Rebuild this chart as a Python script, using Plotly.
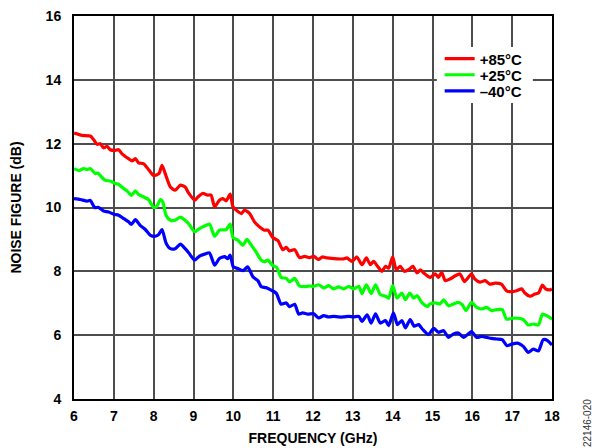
import plotly.graph_objects as go

# Frequency (GHz) and noise figure (dB)
freq_85 = [6.0, 6.2, 6.41, 6.49, 6.58, 6.66, 6.74, 6.83, 6.91, 7.04, 7.12, 7.2, 7.37, 7.46, 7.54, 7.62, 7.75, 7.87,
           8.0, 8.13, 8.21, 8.29, 8.42, 8.54, 8.67, 8.79, 8.88,
           9.03, 9.11, 9.23, 9.36, 9.44, 9.53, 9.65, 9.74, 9.82, 9.92, 9.99, 10.07, 10.2, 10.28, 10.41, 10.53,
           10.66, 10.78, 10.87, 10.99, 11.12, 11.24, 11.33, 11.41, 11.54, 11.66, 11.79, 11.91,
           12.02, 12.14, 12.23, 12.35, 12.6, 12.77, 12.85, 12.98, 13.1, 13.23, 13.34, 13.44, 13.52, 13.62,
           13.73, 13.82, 13.9, 14.0, 14.09, 14.19, 14.29, 14.4, 14.51, 14.61, 14.7, 14.78,
           14.94, 15.07, 15.15, 15.23, 15.32, 15.44, 15.57, 15.69, 15.8, 15.9, 15.98, 16.06, 16.19, 16.32,
           16.44, 16.57, 16.73, 16.86, 16.99, 17.11, 17.24, 17.32, 17.45, 17.57, 17.66, 17.76, 17.84, 17.95, 18.0]
nf_85 = [12.33, 12.26, 12.24, 12.13, 11.98, 12.0, 11.87, 11.92, 11.81, 11.79, 11.81, 11.69, 11.53, 11.46, 11.53, 11.40, 11.37, 11.19,
         11.0, 11.06, 11.32, 11.06, 10.64, 10.54, 10.70, 10.64, 10.45,
         10.23, 10.33, 10.44, 10.39, 10.39, 10.02, 10.23, 10.28, 10.21, 10.42, 10.02, 9.92, 9.81, 9.92, 9.81, 9.55,
         9.39, 9.29, 9.29, 9.06, 8.96, 8.68, 8.75, 8.64, 8.68, 8.43, 8.47, 8.43,
         8.47, 8.37, 8.45, 8.42, 8.39, 8.39, 8.42, 8.31, 8.45, 8.21, 8.42, 8.21, 8.31, 8.16,
         8.0, 8.16, 8.10, 8.45, 8.05, 8.16, 8.0, 8.05, 8.16, 7.95, 8.05, 7.95,
         7.81, 7.92, 7.81, 7.97, 7.71, 7.76, 7.86, 7.92, 7.68, 7.81, 7.92, 7.76, 7.66, 7.71,
         7.6, 7.63, 7.6, 7.39, 7.36, 7.39, 7.45, 7.32, 7.22, 7.29, 7.32, 7.57, 7.45, 7.42, 7.45]

freq_25 = [6.0, 6.12, 6.24, 6.33, 6.41, 6.54, 6.6, 6.7, 6.79, 6.91, 7.04, 7.12, 7.2, 7.33, 7.44, 7.54, 7.62, 7.75, 7.87,
           8.0, 8.08, 8.17, 8.23, 8.31, 8.42, 8.54, 8.67, 8.79, 8.88,
           9.03, 9.15, 9.28, 9.4, 9.53, 9.65, 9.82, 9.92, 9.99, 10.11, 10.24, 10.34, 10.45, 10.57, 10.7, 10.78,
           10.87, 10.98, 11.09, 11.2, 11.33, 11.41, 11.54, 11.66, 11.79, 11.91,
           12.02, 12.14, 12.27, 12.39, 12.52, 12.64, 12.77, 12.9, 13.02, 13.15, 13.23, 13.34, 13.46, 13.57,
           13.69, 13.82, 13.9, 14.0, 14.11, 14.23, 14.32, 14.43, 14.53, 14.61, 14.74,
           14.87, 14.94, 15.07, 15.19, 15.28, 15.4, 15.53, 15.65, 15.75, 15.84, 15.98, 16.11, 16.23, 16.36,
           16.48, 16.61, 16.75, 16.86, 16.99, 17.15, 17.28, 17.4, 17.53, 17.66, 17.76, 17.87, 18.0]
nf_25 = [11.22, 11.16, 11.22, 11.19, 11.22, 11.06, 11.08, 10.94, 10.85, 10.83, 10.75, 10.73, 10.64, 10.52, 10.38, 10.52, 10.41, 10.33, 10.25,
         10.0, 10.04, 10.25, 10.17, 9.76, 9.6, 9.6, 9.70, 9.6, 9.49,
         9.24, 9.34, 9.42, 9.48, 9.1, 9.29, 9.31, 9.48, 9.06, 8.98, 8.82, 9.0, 8.82, 8.61, 8.35, 8.3,
         8.35, 8.19, 8.12, 7.81, 7.78, 7.67, 7.78, 7.54, 7.52, 7.54,
         7.53, 7.58, 7.48, 7.55, 7.45, 7.51, 7.45, 7.53, 7.45, 7.53, 7.3, 7.58, 7.3, 7.58,
         7.27, 7.22, 7.16, 7.55, 7.16, 7.32, 7.11, 7.32, 7.16, 7.24, 7.01,
         6.9, 6.98, 7.01, 6.98, 7.11, 6.92, 6.98, 7.03, 6.95, 6.77, 7.03, 6.87, 6.82, 6.87,
         6.77, 6.80, 6.80, 6.5, 6.53, 6.53, 6.49, 6.32, 6.35, 6.32, 6.66, 6.61, 6.5]

freq_m40 = [6.0, 6.16, 6.33, 6.41, 6.52, 6.62, 6.74, 6.87, 7.0, 7.12, 7.25, 7.37, 7.44, 7.54, 7.66, 7.79, 7.92,
            8.04, 8.13, 8.21, 8.31, 8.42, 8.54, 8.67, 8.79, 8.88,
            9.03, 9.15, 9.28, 9.4, 9.53, 9.65, 9.78, 9.86, 9.92, 10.0, 10.11, 10.24, 10.36, 10.49, 10.62, 10.7,
            10.82, 10.95, 11.08, 11.2, 11.33, 11.41, 11.54, 11.64, 11.74, 11.87,
            12.02, 12.14, 12.27, 12.39, 12.52, 12.64, 12.77, 12.9, 13.02, 13.15, 13.23, 13.36, 13.46, 13.57,
            13.69, 13.82, 13.9, 14.02, 14.12, 14.23, 14.32, 14.44, 14.54, 14.65, 14.76,
            14.9, 15.03, 15.15, 15.28, 15.4, 15.53, 15.65, 15.78, 15.9, 15.98, 16.11, 16.23, 16.36,
            16.48, 16.61, 16.75, 16.87, 16.99, 17.14, 17.28, 17.4, 17.53, 17.66, 17.78, 17.89, 18.0]
nf_m40 = [10.28, 10.25, 10.20, 10.22, 10.0, 10.0, 9.89, 9.86, 9.79, 9.76, 9.65, 9.55, 9.47, 9.62, 9.44, 9.31, 9.13,
          9.10, 9.16, 9.31, 8.89, 8.71, 8.71, 8.85, 8.71, 8.58,
          8.35, 8.48, 8.54, 8.58, 8.19, 8.40, 8.46, 8.40, 8.51, 8.14, 8.09, 8.02, 8.14, 7.83, 7.70, 7.52,
          7.49, 7.41, 7.31, 6.97, 7.01, 6.89, 6.97, 6.66, 6.70, 6.66,
          6.67, 6.54, 6.61, 6.57, 6.59, 6.57, 6.57, 6.59, 6.57, 6.59, 6.43, 6.64, 6.38, 6.67,
          6.38, 6.46, 6.3, 6.7, 6.33, 6.46, 6.23, 6.49, 6.28, 6.33, 6.17,
          6.02, 6.21, 6.09, 6.14, 5.93, 6.04, 6.07, 5.93, 6.04, 6.11, 5.93, 5.96, 5.93,
          5.9, 5.88, 5.86, 5.67, 5.72, 5.75, 5.65, 5.46, 5.56, 5.51, 5.86, 5.83, 5.69]

x_ticks = [6, 7, 8, 9, 10, 11, 12, 13, 14, 15, 16, 17, 18]
y_ticks = [4, 6, 8, 10, 12, 14, 16]

series = [("+85°C", freq_85, nf_85, "#FF0000"),
          ("+25°C", freq_25, nf_25, "#00FF00"),
          ("\u201340°C", freq_m40, nf_m40, "#0000FF")]

FONT = "Arial, Liberation Sans, sans-serif"
legend_ids = ["legend", "legend2", "legend3"]
legend_tops = [0.931, 0.889, 0.847]

fig = go.Figure()
for (name, xs, ys, col), lid in zip(series, legend_ids):
    fig.add_trace(go.Scatter(x=xs, y=ys, name=name, mode="lines", legend=lid,
                             line=dict(color=col, width=3.2, shape="spline", smoothing=0.6)))

axis_common = dict(showline=True, linecolor="black", linewidth=2, mirror=True,
                   showgrid=True, gridcolor="#4d4d4d", gridwidth=1.5,
                   zeroline=False, ticks="", automargin=False,
                   tickfont=dict(family=FONT, size=14, color="black", weight="bold"))

fig.update_xaxes(range=[6, 18], tickvals=x_ticks, ticktext=[str(v) for v in x_ticks],
                 ticklabelstandoff=3,
                 title=dict(text="FREQUENCY (GHz)", font=dict(family=FONT, size=14, color="black", weight="bold"),
                            standoff=10),
                 **axis_common)
fig.update_yaxes(range=[4, 16], tickvals=y_ticks, ticktext=[str(v) for v in y_ticks],
                 ticklabelstandoff=8,
                 title=dict(text="NOISE FIGURE (dB)", font=dict(family=FONT, size=14, color="black", weight="bold"),
                            standoff=21),
                 **axis_common)

legend_style = dict(xanchor="left", yanchor="top", bgcolor="rgba(0,0,0,0)", borderwidth=0,
                    font=dict(family=FONT, size=15, color="black", weight="bold"), itemwidth=30)

fig.update_layout(
    width=592, height=448,
    margin=dict(l=74, r=40, t=16, b=49),
    paper_bgcolor="white", plot_bgcolor="white",
    showlegend=True,
    legend=dict(x=0.765, y=legend_tops[0], **legend_style),
    legend2=dict(x=0.765, y=legend_tops[1], **legend_style),
    legend3=dict(x=0.765, y=legend_tops[2], **legend_style),
    shapes=[dict(type="rect", xref="paper", yref="paper", x0=0.759, x1=0.960, y0=0.773, y1=0.919,
                 fillcolor="white", line=dict(width=0), layer="above")],
    annotations=[dict(text="22146-020", xref="paper", yref="paper", x=1.073, y=-0.063,
                      xanchor="center", yanchor="middle", textangle=-90, showarrow=False,
                      font=dict(family=FONT, size=10, color="#333333"))],
)

fig.write_html("out.html")
